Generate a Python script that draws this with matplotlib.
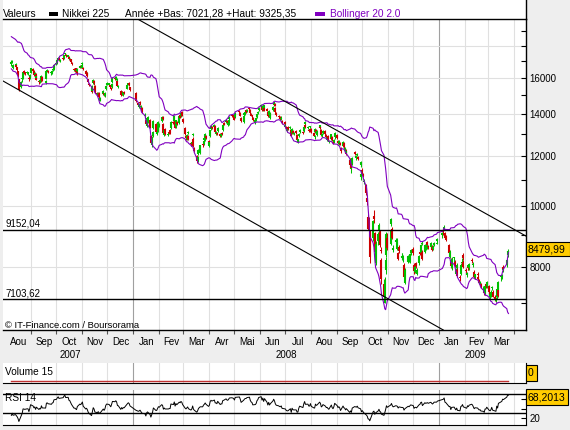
import numpy as np
import pandas as pd
import matplotlib
matplotlib.use('Agg')
import matplotlib.pyplot as plt
import matplotlib.dates as mdates
import matplotlib.transforms as mtransforms
from matplotlib.patches import Rectangle
from matplotlib.lines import Line2D
from matplotlib.ticker import FixedLocator, FixedFormatter, NullLocator, NullFormatter

plt.rcParams['font.family'] = ['Liberation Sans', 'DejaVu Sans']

W, H = 570, 430


def fx(px):
    return px / W


def fy(py):
    return 1 - py / H


# Tokyo exchange holidays inside the range (weekdays only)
holidays = ['2007-07-16', '2007-09-17', '2007-09-24', '2007-10-08', '2007-11-23',
            '2007-12-24', '2007-12-31', '2008-01-01', '2008-01-02', '2008-01-03',
            '2008-01-14', '2008-02-11', '2008-03-20', '2008-04-29', '2008-05-05',
            '2008-05-06', '2008-07-21', '2008-09-15', '2008-09-23', '2008-10-13',
            '2008-11-03', '2008-11-24', '2008-12-23', '2008-12-31', '2009-01-01',
            '2009-01-02', '2009-01-12', '2009-02-11', '2009-03-20']

# closes before the first drawn candle (only used by the indicators)
warm_close = [18146, 18050, 18050, 18177, 18140, 18261, 18162, 17956, 18050, 18238,
              18052, 18015, 18003, 18157, 18045, 17951, 17858, 17702, 17283, 17289,
              17248, 16870, 17030, 16980, 16774, 16765]

close = [
    16921, 17030, 16765, 16800, 16643, 16475, 16148, 15273, 15732, 15901, 16316, 16301, 16248, 16302, 16288, 15901, 16153, 16569,  # aou 07
    16413, 16158, 16257, 15893, 16122, 15764, 15877, 15797, 16127, 15827, 15802, 16381, 16413, 16312, 16251, 16401, 16435, 16786,  # sep
    16845, 17046, 17199, 17065, 17092, 17159, 17372, 17492, 17331, 17358, 17138, 17106, 16955, 16814, 16438, 16451, 16358, 16284, 16505, 16699, 16651, 16737,  # oct
    16870, 16517, 16212, 16268, 16096, 15771, 15583, 15197, 15499, 15861, 15674, 15154, 15043, 15132, 14888, 14837, 15219, 15004, 15153, 15514, 15680,  # nov
    15629, 15480, 15350, 15608, 15956, 15925, 16044, 15932, 15537, 15514, 15030, 15207, 15031, 15155, 15121, 15552, 15653, 15564, 15307,  # dec
    14691, 14500, 14528, 14600, 14400, 14110, 13972, 13504, 13783, 13861, 13325, 12573, 12829, 13092, 13629, 13087, 13099, 13345, 13592,  # jan 08
    13497, 13860, 13745, 13049, 13207, 13017, 13021, 13068, 13068, 13622, 13548, 13910, 13310, 13688, 13500, 13914, 13824, 14031, 13927, 13603,  # fev
    12992, 12840, 12975, 13094, 12782, 12532, 12659, 13027, 12433, 12241, 11787, 11970, 12260, 12480, 12480, 12708, 12820, 13003, 12821, 12525,  # mar
    12656, 13189, 13390, 13293, 13450, 13097, 13111, 13009, 13323, 12923, 13011, 12998, 13433, 13476, 13696, 13586, 13550, 13678, 13863, 13895, 13849,  # avr
    13715, 14049, 14102, 13925, 13655, 13894, 14034, 14119, 14118, 14219, 14269, 14042, 13926, 13882, 13690, 13713, 13793, 14028, 14124, 14339,  # mai
    14440, 14209, 14435, 14181, 14489, 14182, 13890, 14183, 13889, 14035, 14354, 14611, 14425, 14106, 13942, 13857, 13773, 13747, 13823, 13544, 13481,  # jun
    13463, 13286, 13237, 13237, 13373, 12940, 13253, 13067, 13039, 13039, 12754, 12761, 13021, 13188, 13051, 13358, 13603, 13334, 13353, 13159, 13160, 13376,  # jul
    13101, 12933, 12912, 13254, 13124, 13168, 13430, 13303, 12956, 13019, 13165, 13002, 12851, 12865, 12752, 12666, 12994, 12720, 12600, 12753, 13072,  # aou
    12834, 12609, 12689, 12557, 12212, 12625, 12400, 12346, 12102, 12214, 11609, 11749, 11489, 11920, 12090, 12006, 12115, 11893, 11743, 11259,  # sep
    11368, 11154, 10938, 10473, 10155, 9203, 9157, 8276, 9447, 9547, 8458, 8693, 9005, 9306, 8674, 8460, 7649, 7163, 7621, 8211, 9029, 8577,  # oct
    9115, 9521, 8899, 8583, 8836, 8809, 8693, 8238, 8462, 8329, 8328, 8273, 7703, 7910, 8323, 8213, 8373, 8512,  # nov
    8398, 7863, 8004, 8016, 7917, 8330, 8395, 8660, 8720, 8235, 8665, 8568, 8612, 8667, 8588, 8723, 8517, 8599, 8739, 8742, 8860,  # dec
    9043, 9080, 9239, 8876, 8836, 8413, 8438, 8023, 8230, 8256, 8065, 7901, 8051, 7745, 7682, 8061, 8106, 8251, 7994,  # jan 09
    7873, 7825, 8038, 7950, 8076, 8161, 8083, 7705, 7779, 7750, 7645, 7534, 7557, 7416, 7376, 7268, 7461, 7458, 7568,  # fev
    7280, 7229, 7290, 7433, 7173, 7086, 7054, 7376, 7198, 7569, 7704, 7750, 7972, 7945, 8215, 8488, 8479.99,  # mar
]

opens = [
    16800, 16960, 16600, 16780, 16790, 16620, 16380, 15900, 15450, 15900, 15960, 16380, 16260, 16290, 16250, 15990, 16050, 16290,
    16520, 16400, 16150, 16230, 15990, 15800, 15740, 15900, 15830, 16050, 15700, 15950, 16400, 16360, 16250, 16240, 16430, 16480,
    16800, 16900, 17100, 17150, 17000, 17200, 17180, 17450, 17400, 17280, 17250, 17050, 17130, 16850, 16500, 16420, 16550, 16320, 16400, 16600, 16720, 16600,
    16800, 16600, 16400, 16180, 16300, 15900, 15650, 15400, 15250, 15700, 15800, 15500, 15150, 15000, 15150, 14700, 15050, 15100, 14950, 15350, 15600,
    15600, 15550, 15420, 15450, 15750, 15970, 15900, 15850, 15800, 15450, 15250, 15050, 15200, 15000, 15200, 15350, 15600, 15700, 15450,
    15150, 14550, 14350, 14650, 14350, 14300, 13900, 13700, 13400, 13650, 13700, 12900, 12500, 12900, 13300, 13500, 13000, 13150, 13300,
    13400, 13650, 13850, 13500, 12950, 13250, 12950, 13100, 13200, 13300, 13600, 13650, 13650, 13350, 13600, 13550, 13950, 13900, 14100, 13750,
    13300, 12900, 12800, 13050, 12900, 12600, 12550, 12950, 12800, 12350, 12000, 11850, 12100, 12150, 12500, 12550, 12750, 12750, 12900, 12700,
    12450, 12900, 13250, 13350, 13350, 13400, 13000, 13050, 13150, 13000, 12900, 13050, 13200, 13550, 13600, 13650, 13450, 13500, 13750, 13950, 13950,
    13900, 13850, 14150, 14050, 13800, 13600, 13950, 14000, 14200, 14150, 14300, 14200, 14000, 13900, 13800, 13550, 13700, 13850, 14050, 14200,
    14400, 14350, 14200, 14300, 14300, 14250, 14100, 13950, 14000, 13800, 14200, 14450, 14550, 14300, 14050, 13900, 13850, 13800, 13750, 13650, 13600,
    13350, 13350, 13150, 13350, 13300, 13200, 13050, 13150, 13000, 13150, 12950, 12650, 12900, 13100, 13100, 13150, 13500, 13450, 13300, 13200, 13250, 13350,
    13250, 13050, 12850, 13100, 13200, 12950, 13300, 13350, 13200, 12900, 13050, 13150, 12950, 12750, 12900, 12650, 12800, 12850, 12650, 12650, 12850,
    12950, 12700, 12550, 12600, 12350, 12450, 12600, 12250, 12250, 12150, 11850, 11450, 11700, 11650, 12200, 11900, 12050, 11950, 11600, 11100,
    11400, 11250, 10900, 10800, 10300, 9600, 9400, 9100, 8900, 9650, 9050, 8100, 8800, 9150, 9100, 8500, 8200, 7500, 7000, 7900, 8350, 8900,
    8700, 9350, 9200, 8500, 8750, 8700, 8550, 8400, 8600, 8250, 8300, 8200, 8050, 7550, 8150, 8200, 8150, 8400,
    8550, 8050, 7850, 8100, 7800, 8100, 8450, 8400, 8700, 8450, 8450, 8550, 8750, 8600, 8600, 8600, 8600, 8550, 8650, 8700, 8800,
    8990, 9100, 9200, 9050, 8950, 8650, 8300, 8200, 7950, 8250, 8150, 7800, 7950, 7900, 7700, 7800, 8100, 8350, 8150,
    7900, 7750, 7950, 8000, 7950, 8200, 8050, 7850, 7700, 7800, 7700, 7600, 7500, 7500, 7350, 7300, 7250, 7500, 7450,
    7450, 7150, 7250, 7400, 7300, 7150, 7050, 7150, 7350, 7350, 7700, 7700, 7900, 8000, 8050, 8350, 8450,
]

highs = [
    17050, 17100, 16850, 16900, 16830, 16660, 16420, 15950, 15800, 16000, 16350, 16450, 16330, 16380, 16350, 16080, 16230, 16600,
    16600, 16450, 16320, 16280, 16180, 15880, 15950, 15960, 16180, 16100, 15880, 16420, 16500, 16430, 16330, 16450, 16520, 16800,
    16900, 17080, 17250, 17230, 17150, 17250, 17400, 17500, 17450, 17400, 17300, 17180, 17150, 16950, 16600, 16550, 16600, 16400, 16550, 16750, 16780, 16800,
    16950, 16650, 16450, 16350, 16350, 15950, 15700, 15450, 15550, 15900, 15850, 15550, 15200, 15200, 15200, 14900, 15300, 15150, 15200, 15600, 15750,
    15700, 15600, 15480, 15650, 15980, 16050, 16100, 15980, 15820, 15600, 15300, 15250, 15250, 15200, 15250, 15580, 15700, 15750, 15480,
    15160, 14600, 14600, 14700, 14500, 14350, 14050, 13750, 13800, 13900, 13750, 12950, 12900, 13150, 13700, 13550, 13200, 13400, 13650,
    13550, 13900, 13900, 13550, 13250, 13300, 13100, 13150, 13250, 13650, 13650, 13950, 13700, 13700, 13650, 13950, 13980, 14100, 14150, 13780,
    13350, 12950, 13000, 13150, 12950, 12650, 12700, 13050, 12850, 12400, 12050, 12000, 12300, 12500, 12550, 12750, 12850, 13050, 12950, 12750,
    12700, 13200, 13450, 13400, 13500, 13450, 13150, 13100, 13350, 13050, 13050, 13100, 13450, 13600, 13750, 13700, 13600, 13700, 13900, 14000, 14000,
    13950, 14100, 14200, 14100, 13850, 13950, 14080, 14200, 14250, 14250, 14350, 14250, 14050, 13950, 13850, 13750, 13850, 14050, 14150, 14350,
    14520, 14400, 14450, 14350, 14500, 14300, 14150, 14200, 14050, 14100, 14400, 14650, 14600, 14350, 14100, 13950, 13900, 13850, 13880, 13700, 13650,
    13500, 13400, 13300, 13400, 13400, 13250, 13300, 13200, 13100, 13200, 13000, 12800, 13050, 13250, 13150, 13400, 13650, 13500, 13400, 13250, 13300, 13400,
    13300, 13100, 12950, 13300, 13250, 13200, 13450, 13400, 13250, 13050, 13200, 13200, 13000, 12900, 12950, 12750, 13000, 12900, 12700, 12800, 13100,
    13000, 12750, 12750, 12650, 12400, 12700, 12650, 12400, 12300, 12250, 11900, 11800, 11750, 11950, 12250, 12050, 12150, 12000, 11800, 11400,
    11500, 11300, 11050, 10850, 10400, 9700, 9600, 9150, 9500, 9850, 9100, 8800, 9100, 9400, 9150, 8600, 8250, 7650, 7700, 8300, 9100, 9050,
    9150, 9550, 9250, 8650, 8900, 8900, 8750, 8450, 8650, 8400, 8400, 8350, 8100, 7950, 8350, 8300, 8400, 8550,
    8600, 8100, 8050, 8150, 7950, 8350, 8500, 8700, 8800, 8500, 8700, 8650, 8800, 8700, 8650, 8750, 8650, 8650, 8750, 8800, 8900,
    9100, 9150, 9325, 9100, 8980, 8700, 8500, 8250, 8300, 8300, 8200, 7950, 8100, 7950, 7750, 8100, 8250, 8400, 8200,
    7950, 7850, 8050, 8050, 8100, 8250, 8150, 7900, 7800, 7850, 7750, 7650, 7600, 7550, 7450, 7350, 7500, 7550, 7600,
    7480, 7300, 7350, 7450, 7350, 7200, 7150, 7400, 7400, 7600, 7750, 7800, 8000, 8050, 8250, 8500, 8550,
]

lows = [
    16720, 16880, 16540, 16700, 16560, 16390, 16050, 15262, 15380, 15750, 15900, 16230, 16150, 16220, 16150, 15830, 15950, 16250,
    16350, 16100, 16080, 15850, 15920, 15650, 15700, 15750, 15800, 15780, 15640, 15920, 16330, 16250, 16170, 16200, 16380, 16450,
    16750, 16850, 17050, 17000, 16950, 17080, 17150, 17380, 17280, 17250, 17100, 17000, 16900, 16750, 16380, 16350, 16300, 16150, 16350, 16550, 16600, 16550,
    16750, 16450, 16150, 16100, 16050, 15700, 15500, 15150, 15200, 15650, 15600, 15120, 14950, 14950, 14850, 14670, 15000, 14950, 14900, 15300, 15550,
    15500, 15420, 15300, 15400, 15700, 15880, 15850, 15800, 15500, 15400, 14980, 15000, 15000, 14950, 15080, 15330, 15550, 15520, 15250,
    14650, 14400, 14300, 14450, 14300, 14050, 13800, 13450, 13350, 13550, 13300, 12550, 12400, 12850, 13250, 13050, 12950, 13100, 13250,
    13350, 13600, 13700, 13000, 12900, 12980, 12900, 13000, 13000, 13250, 13500, 13600, 13280, 13300, 13450, 13500, 13780, 13850, 13900, 13550,
    12950, 12750, 12750, 13000, 12750, 12450, 12500, 12900, 12400, 12200, 11700, 11750, 12050, 12100, 12400, 12500, 12700, 12700, 12780, 12480,
    12400, 12850, 13200, 13250, 13300, 13050, 12950, 12950, 13100, 12880, 12850, 12950, 13150, 13450, 13550, 13550, 13400, 13450, 13700, 13850, 13800,
    13680, 13800, 14050, 13900, 13600, 13550, 13900, 13950, 14050, 14100, 14200, 14000, 13900, 13800, 13650, 13500, 13650, 13800, 14000, 14150,
    14350, 14180, 14150, 14150, 14250, 14150, 13850, 13900, 13850, 13750, 14150, 14400, 14400, 14080, 13900, 13800, 13750, 13700, 13700, 13500, 13450,
    13300, 13250, 13100, 13200, 13250, 12900, 13000, 13000, 12950, 13000, 12700, 12600, 12850, 13050, 13000, 13100, 13450, 13300, 13250, 13100, 13100, 13300,
    13050, 12900, 12800, 13050, 13100, 12900, 13250, 13250, 12900, 12850, 13000, 12980, 12800, 12700, 12700, 12600, 12750, 12700, 12550, 12600, 12800,
    12800, 12550, 12500, 12500, 12150, 12400, 12350, 12200, 12050, 12100, 11500, 11300, 11450, 11600, 12050, 11850, 12000, 11850, 11550, 11000,
    11200, 11100, 10850, 10400, 10050, 9150, 8950, 8100, 8800, 9400, 8350, 8050, 8650, 9000, 8600, 8400, 7500, 7100, 6995, 7800, 8300, 8500,
    8650, 9300, 8850, 8450, 8700, 8650, 8500, 8200, 8400, 8200, 8250, 8150, 7650, 7500, 8100, 8150, 8100, 8350,
    8350, 7800, 7820, 7950, 7750, 8050, 8350, 8380, 8650, 8200, 8400, 8500, 8580, 8550, 8550, 8580, 8480, 8520, 8620, 8680, 8750,
    8900, 9000, 9150, 8850, 8800, 8380, 8250, 7950, 7900, 8150, 8000, 7750, 7900, 7700, 7600, 7750, 8050, 8200, 7950,
    7800, 7700, 7900, 7900, 7900, 8100, 8000, 7680, 7650, 7700, 7600, 7500, 7450, 7400, 7300, 7200, 7200, 7400, 7400,
    7250, 7100, 7150, 7350, 7150, 7050, 7021, 7100, 7150, 7300, 7600, 7650, 7850, 7900, 8000, 8300, 8400,
]

volume = [0] * len(close)   # index: no volume

month_names = ['Aou', 'Sep', 'Oct', 'Nov', 'Dec', 'Jan', 'Fev', 'Mar', 'Avr', 'Mai', 'Jun', 'Jul',
               'Aou', 'Sep', 'Oct', 'Nov', 'Dec', 'Jan', 'Fev', 'Mar']
price_ticks = [7000, 8000, 9000, 10000, 11000, 12000, 13000, 14000, 15000, 16000, 17000, 18000, 19000]
price_labels = ['', '8000', '', '10000', '', '12000', '', '14000', '', '16000', '', '', '']

# support / resistance levels and the trend channel
level_hi, level_lo = 9152.04, 7103.62
chan_lo_x = ['2007-07-29', '2009-01-06']
chan_lo_y = [15807, 6344]
chan_hi_x = ['2008-01-06', '2009-04-15']
chan_hi_y = [19840, 8952]

dates_warm = pd.bdate_range('2007-07-02', '2007-08-07', freq='C', holidays=holidays)
dates = pd.bdate_range('2007-08-08', '2009-03-25', freq='C', holidays=holidays)

s = pd.Series(warm_close + close, index=dates_warm.append(dates), dtype=float)
mid = s.rolling(20).mean()
sd = s.rolling(20).std(ddof=0)
bb_up = (mid + 2 * sd)[dates]
bb_dn = (mid - 2 * sd)[dates]
d = s.diff()
gain = d.clip(lower=0).ewm(alpha=1 / 14, adjust=False).mean()
loss = (-d.clip(upper=0)).ewm(alpha=1 / 14, adjust=False).mean()
rsi = (100 - 100 / (1 + gain / loss))[dates]
vol_ma = pd.Series(volume, index=dates).rolling(15, min_periods=1).mean()

o = np.array(opens, dtype=float)
c = np.array(close, dtype=float)
hh = np.maximum(np.array(highs, dtype=float), np.maximum(o, c))
ll = np.minimum(np.array(lows, dtype=float), np.minimum(o, c))
cols = np.where(c >= o, '#00c000', '#cc0000')
body_lo = np.minimum(o, c)
body_hi = np.maximum(np.maximum(o, c), body_lo * 1.004)

purple = '#8000c0'
grid_c = '#e0e0e0'
year_c = '#a0a0a0'

x0, x1 = pd.Timestamp('2007-07-29'), pd.Timestamp('2009-04-15')
month_starts = pd.date_range('2007-09-01', '2009-04-01', freq='MS')
edges = [pd.Timestamp('2007-08-01')] + list(month_starts)
mid_months = [edges[i] + (edges[i + 1] - edges[i]) / 2 for i in range(len(edges) - 1)]

fig = plt.figure(figsize=(5.7, 4.3), dpi=100, facecolor='#eeeeee')

# header strip
fig.add_artist(Rectangle((fx(3), fy(19)), fx(526) - fx(3), fy(0) - fy(19),
                         transform=fig.transFigure, facecolor='white', edgecolor='none', zorder=0))
fig.add_artist(Line2D([fx(526), fx(526)], [fy(0), fy(19)], transform=fig.transFigure,
                      color='black', lw=1))

ax = fig.add_axes([fx(3), fy(330), fx(526) - fx(3), fy(19) - fy(330)])
ax.set_yscale('log')
ax.set_xlim(x0, x1)
ax.set_ylim(6344, 19840)

for m in month_starts:
    ax.axvline(m, color=year_c if m.month == 1 else grid_c, lw=0.8, zorder=0)
for v in range(8000, 20000, 2000):
    ax.axhline(v, color=grid_c, lw=0.8, zorder=0)

ax.vlines(dates, ll, hh, colors=cols, lw=0.75, zorder=3)
ax.vlines(dates, body_lo, body_hi, colors=cols, lw=1.5, zorder=3)
ax.plot(dates, bb_up, color=purple, lw=0.8, zorder=4)
ax.plot(dates, bb_dn, color=purple, lw=0.8, zorder=4)

ax.axhline(level_hi, color='black', lw=1.0, zorder=5)
ax.axhline(level_lo, color='black', lw=1.0, zorder=5)
ax.plot(pd.to_datetime(chan_lo_x), chan_lo_y, color='black', lw=0.8, zorder=5)
ax.plot(pd.to_datetime(chan_hi_x), chan_hi_y, color='black', lw=0.8, zorder=5)

ax.yaxis.tick_right()
ax.yaxis.set_major_locator(FixedLocator(price_ticks))
ax.yaxis.set_major_formatter(FixedFormatter(price_labels))
ax.yaxis.set_minor_locator(NullLocator())
ax.yaxis.set_minor_formatter(NullFormatter())
ax.tick_params(axis='y', which='major', direction='in', length=3.3, width=0.8,
               pad=2.5, labelsize=7, right=True, left=False)

ax.xaxis.set_major_locator(FixedLocator(mdates.date2num(month_starts)))
ax.xaxis.set_major_formatter(NullFormatter())
ax.xaxis.set_minor_locator(FixedLocator(mdates.date2num(mid_months)))
ax.xaxis.set_minor_formatter(FixedFormatter(month_names))
ax.tick_params(axis='x', which='major', direction='out', length=3, width=0.8, color='#555555')
ax.tick_params(axis='x', which='minor', length=0, pad=5, labelsize=7)

for sp in ['top', 'right', 'bottom']:
    ax.spines[sp].set_color('black')
    ax.spines[sp].set_linewidth(1.0)
ax.spines['left'].set_visible(False)

trans = mtransforms.blended_transform_factory(ax.transData, ax.transAxes)
for yr in [2007, 2008, 2009]:
    sel = dates[dates.year == yr]
    ax.text(sel[0] + (sel[-1] - sel[0]) / 2, -0.08, str(yr), transform=trans,
            ha='center', va='center', fontsize=7)

# header texts
fig.text(fx(3), fy(14), 'Valeurs', fontsize=7.3, va='center')
fig.add_artist(Rectangle((fx(49), fy(15.5)), fx(9), 3 / H, transform=fig.transFigure,
                         facecolor='black', edgecolor='none'))
fig.text(fx(62), fy(14), 'Nikkei 225', fontsize=7.3, va='center')
fig.text(fx(125), fy(14), 'Année +Bas: 7021,28 +Haut: 9325,35', fontsize=7.3, va='center')
fig.add_artist(Rectangle((fx(315), fy(15.5)), fx(10), 3 / H, transform=fig.transFigure,
                         facecolor=purple, edgecolor='none'))
fig.text(fx(330), fy(14), 'Bollinger 20 2.0', fontsize=7.3, va='center', color=purple)

fig.text(fx(5), fy(224), '9152,04', fontsize=7, va='center')
fig.text(fx(5), fy(293), '7103,62', fontsize=7, va='center')
fig.text(fx(5), fy(325), '© IT-Finance.com / Boursorama', fontsize=6.8, va='center')

fig.add_artist(Rectangle((fx(526), fy(256)), fx(44), 14 / H, transform=fig.transFigure,
                         facecolor='#ffcc00', edgecolor='black', lw=0.8))
fig.text(fx(528), fy(249), '8479,99', fontsize=7.5, va='center')

# volume panel
axv = fig.add_axes([fx(3), fy(383), fx(526) - fx(3), fy(363) - fy(383)])
axv.set_xlim(x0, x1)
axv.set_ylim(-0.1, 1)
for m in month_starts:
    axv.axvline(m, color=year_c if m.month == 1 else grid_c, lw=0.8, zorder=0)
axv.plot(dates, vol_ma, color='#c03030', lw=1.0)
axv.set_xticks([])
axv.set_yticks([])
axv.spines['left'].set_visible(False)
axv.spines['top'].set_visible(False)
axv.text(0.004, 0.55, 'Volume 15', transform=axv.transAxes, fontsize=7.3, va='center')
fig.add_artist(Rectangle((fx(526), fy(381)), fx(11), 16 / H, transform=fig.transFigure,
                         facecolor='#ffcc00', edgecolor='black', lw=0.8))
fig.text(fx(528), fy(373), '0', fontsize=7.5, va='center')

# RSI panel
axr = fig.add_axes([fx(3), fy(425), fx(526) - fx(3), fy(390) - fy(425)])
axr.set_xlim(x0, x1)
axr.set_ylim(6, 79)
for m in month_starts:
    axr.axvline(m, color=year_c if m.month == 1 else grid_c, lw=0.8, zorder=0)
axr.axhline(70, color='black', lw=1.0)
axr.axhline(30, color='black', lw=1.0)
axr.plot(dates, rsi, color='black', lw=0.7)
axr.set_xticks([])
axr.yaxis.tick_right()
axr.set_yticks([20, 40, 60])
axr.set_yticklabels(['20', '', ''])
axr.tick_params(axis='y', direction='in', length=3.3, width=0.8, pad=2.5, labelsize=7)
axr.spines['left'].set_visible(False)
axr.spines['top'].set_visible(False)
axr.text(0.004, 0.78, 'RSI 14', transform=axr.transAxes, fontsize=7.3, va='center')
fig.add_artist(Rectangle((fx(526), fy(405)), fx(42), 16 / H, transform=fig.transFigure,
                         facecolor='#ffcc00', edgecolor='black', lw=0.8))
fig.text(fx(528), fy(397), '68,2013', fontsize=7.5, va='center')

fig.savefig('out.png', dpi=100, facecolor=fig.get_facecolor())
